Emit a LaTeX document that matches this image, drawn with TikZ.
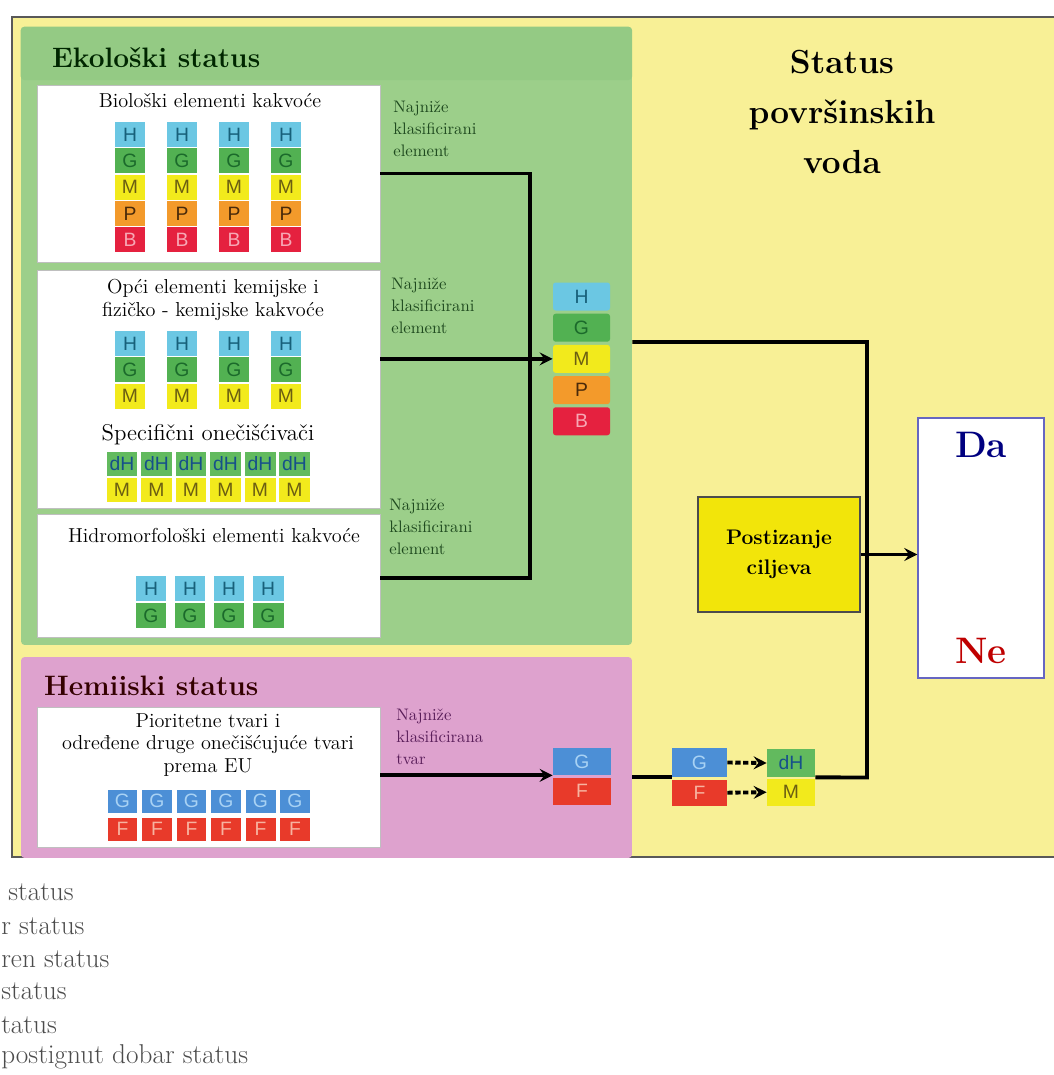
\documentclass[tikz,border=0pt]{standalone}
\usepackage{fontspec}
\newfontfamily\cellfont{Liberation Sans}
\usetikzlibrary{positioning}

\definecolor{bgyellow}{HTML}{F8F096}
\definecolor{ekogreen}{HTML}{9CCF8A}
\definecolor{ekoband}{HTML}{94CA84}
\definecolor{hempink}{HTML}{DEA2CE}
\definecolor{goalyellow}{HTML}{F2E50A}
\definecolor{hc}{HTML}{6BC7E3}\definecolor{hct}{HTML}{17607A}
\definecolor{gc}{HTML}{52B152}\definecolor{gct}{HTML}{1B6A2B}
\definecolor{mc}{HTML}{F2EA1C}\definecolor{mct}{HTML}{6B5E12}
\definecolor{pc}{HTML}{F39A2B}\definecolor{pct}{HTML}{4A2A0A}
\definecolor{bc}{HTML}{E5213F}\definecolor{bct}{HTML}{F7A8B5}
\definecolor{gbc}{HTML}{4C8FD6}\definecolor{gbct}{HTML}{A8D2F4}
\definecolor{fc}{HTML}{E83A2A}\definecolor{fct}{HTML}{F7B3A0}
\definecolor{dhc}{HTML}{62BA5E}\definecolor{dhct}{HTML}{16508A}
\definecolor{labgreen}{HTML}{1F4A1F}
\definecolor{labpurple}{HTML}{5A1E5A}

\begin{document}
\begin{tikzpicture}[x=0.02cm,y=-0.02cm,>=stealth,
    panel/.style={inner sep=0pt},
    whitebox/.style={fill=white,draw=black!25,inner sep=0pt},
    boxtitle/.style={align=center,font=\fontsize{11.5}{13}\selectfont},
    lab/.style={anchor=north west,align=left,inner sep=0pt,font=\fontsize{9.5}{12.5}\selectfont},
    cell/.style={inner sep=0pt,minimum width=0.6cm,minimum height=0.5cm,
      font=\cellfont\fontsize{11}{11}\selectfont},
    cellH/.style={fill=hc,text=hct},
    cellG/.style={fill=gc,text=gct},
    cellM/.style={fill=mc,text=mct},
    cellP/.style={fill=pc,text=pct},
    cellB/.style={fill=bc,text=bct},
    cellGb/.style={fill=gbc,text=gbct},
    cellF/.style={fill=fc,text=fct},
    celldH/.style={fill=dhc,text=dhct},
    conn/.style={line width=2.2pt},
    dotarrow/.style={line width=2.2pt,dash pattern=on 3pt off 1.5pt,->},
    legend/.style={anchor=base west,inner sep=0pt,text=black!70,font=\fontsize{15.5}{17}\selectfont}]

\useasboundingbox (0,0) rectangle (1054,1075);
\clip (0,0) rectangle (1054,1075);

% frame and panels
\node[panel,fill=bgyellow,draw=black!65,line width=1.1pt,minimum width=21.2cm,minimum height=16.82cm] (frame) at (542,437) {};
\node[panel,fill=ekogreen,rounded corners=2pt,minimum width=12.22cm,minimum height=12.36cm] (eko) at (326.5,336) {};
\fill[ekoband,rounded corners=2pt] (eko.north west) rectangle (632,80);
\node[panel,fill=hempink,rounded corners=2pt,minimum width=12.22cm,minimum height=4.02cm] (hem) at (326.5,757.5) {};

\node[anchor=west,text=black!85!green,font=\fontsize{16}{18}\selectfont\bfseries] (ekotitle) at (46,58) {Ekološki status};
\node[anchor=west,text=black!80!red,font=\fontsize{16}{18}\selectfont\bfseries] (hemtitle) at (38,686) {Hemiiski status};
\node[align=center,font=\fontsize{19}{28.5}\selectfont\bfseries] (title) at (842,112) {Status\\površinskih\\voda};

% white boxes
\node[whitebox,minimum width=6.86cm,minimum height=3.54cm] (bio) at (208.5,173.5) {};
\node[whitebox,minimum width=6.86cm,minimum height=4.76cm] (opci) at (208.5,389) {};
\node[whitebox,minimum width=6.86cm,minimum height=2.46cm] (hidro) at (208.5,575.5) {};
\node[whitebox,minimum width=6.86cm,minimum height=2.8cm] (prio) at (208.5,777) {};

\node[boxtitle] (biotitle) at (210,101) {Biološki elementi kakvoće};
\node[boxtitle] (opcititle) at (213,300) {Opći elementi kemijske i\\fizičko - kemijske kakvoće};
\node[boxtitle,font=\fontsize{13}{15}\selectfont] (spectitle) at (208,435) {Specifični onečišćivači};
\node[boxtitle] (hidrotitle) at (214,535) {Hidromorfološki elementi kakvoće};
\node[boxtitle] (priotitle) at (208,745) {Pioritetne tvari i\\određene druge onečišćujuće tvari\\prema EU};

% cells
\foreach \x in {130,182,234,286}{
  \foreach \y/\t/\s in {134.5/H/cellH,160.8/G/cellG,187.1/M/cellM,213.4/P/cellP,239.7/B/cellB}
    \node[cell,\s] at (\x,\y) {\t};
  \foreach \y/\t/\s in {343.5/H/cellH,369.8/G/cellG,396.1/M/cellM}
    \node[cell,\s] at (\x,\y) {\t};
}
\foreach \x in {122,156.5,191,225.5,260,294.5}{
  \node[cell,celldH,minimum width=0.62cm,minimum height=0.48cm] at (\x,464) {dH};
  \node[cell,cellM,minimum width=0.62cm,minimum height=0.48cm] at (\x,490) {M};
}
\foreach \x in {151,190,229,268}{
  \node[cell,cellH,minimum width=0.62cm] at (\x,588.5) {H};
  \node[cell,cellG,minimum width=0.62cm] at (\x,615.5) {G};
}
\foreach \x in {122.5,157,191.5,226,260.5,295}{
  \node[cell,cellGb,minimum height=0.46cm] at (\x,801) {G};
  \node[cell,cellF,minimum height=0.46cm] at (\x,829) {F};
}

% resulting classes
\node[cell,cellH,minimum width=1.14cm,minimum height=0.56cm,rounded corners=1.5pt] (ecoH) at (581.5,296.5) {H};
\node[cell,cellG,minimum width=1.14cm,minimum height=0.56cm,rounded corners=1.5pt,below=0.05cm of ecoH] (ecoG) {G};
\node[cell,cellM,minimum width=1.14cm,minimum height=0.56cm,rounded corners=1.5pt,below=0.05cm of ecoG] (ecoM) {M};
\node[cell,cellP,minimum width=1.14cm,minimum height=0.56cm,rounded corners=1.5pt,below=0.05cm of ecoM] (ecoP) {P};
\node[cell,cellB,minimum width=1.14cm,minimum height=0.56cm,rounded corners=1.5pt,below=0.05cm of ecoP] (ecoB) {B};

\node[cell,cellGb,minimum width=1.16cm,minimum height=0.54cm] (chemG) at (582,761.5) {G};
\node[cell,cellF,minimum width=1.16cm,minimum height=0.54cm,below=0.04cm of chemG] (chemF) {F};

\node[cell,cellGb,minimum width=1.1cm,minimum height=0.58cm] (chemGb) at (699.5,762.5) {G};
\node[cell,cellF,minimum width=1.1cm,minimum height=0.52cm,below=0.04cm of chemGb] (chemFb) {F};
\node[cell,celldH,minimum width=0.96cm,minimum height=0.56cm] (dH) at (791,763) {dH};
\node[cell,cellM,minimum width=0.96cm,minimum height=0.54cm,below=0.02cm of dH] (dM) {M};

\node[fill=goalyellow,draw=black!70,line width=0.6pt,minimum width=3.24cm,minimum height=2.3cm,align=center,
  font=\fontsize{12}{17}\selectfont\bfseries] (goal) at (779,554.5) {Postizanje\\ciljeva};
\node[fill=white,draw=black!40!blue!60,line width=0.8pt,minimum width=2.52cm,minimum height=5.2cm] (dane) at (981,548) {};
\node[below=0.18cm of dane.north,text=blue!50!black,font=\fontsize{21}{21}\selectfont\bfseries] (da) {Da};
\node[above=0.18cm of dane.south,text=red!75!black,font=\fontsize{21}{21}\selectfont\bfseries] (ne) {Ne};

% labels
\node[lab,text=labgreen] (lab1) at (393,101) {Najniže\\klasificirani\\element};
\node[lab,text=labgreen] (lab2) at (391,278) {Najniže\\klasificirani\\element};
\node[lab,text=labgreen] (lab3) at (389,499) {Najniže\\klasificirani\\element};
\node[lab,text=labpurple] (lab4) at (396,709) {Najniže\\klasificirana\\tvar};

% connectors
\coordinate (join) at (530,358.5);
\coordinate (bend) at (867,777.5);
\draw[conn] (bio.east) -| (join);
\draw[conn] (hidro.east |- 0,578) -| (join);
\draw[conn,->] (opci.east |- ecoM.west) -- (ecoM.west);
\draw[conn] (eko.east |- ecoG.south) -| (bend) -- (dH.south east);
\draw[conn,->] (goal.east) -- (goal.east -| dane.west);
\draw[conn,->] (prio.east |- chemG.south) -- (chemG.south west);
\draw[conn] (hem.east |- chemGb.south) -- (chemGb.south west);
\draw[dotarrow] (chemGb.east) -- (dH.west);
\draw[dotarrow] (chemFb.east) -- (dM.west);

% legend below the frame
\node[legend] (leg1) at (8,900) {status};
\node[legend] (leg2) at (1,934) {r status};
\node[legend] (leg3) at (1,967) {ren status};
\node[legend] (leg4) at (1,999) {status};
\node[legend] (leg5) at (1,1033) {tatus};
\node[legend] (leg6) at (1,1063) {postignut dobar status};
\end{tikzpicture}
\end{document}
